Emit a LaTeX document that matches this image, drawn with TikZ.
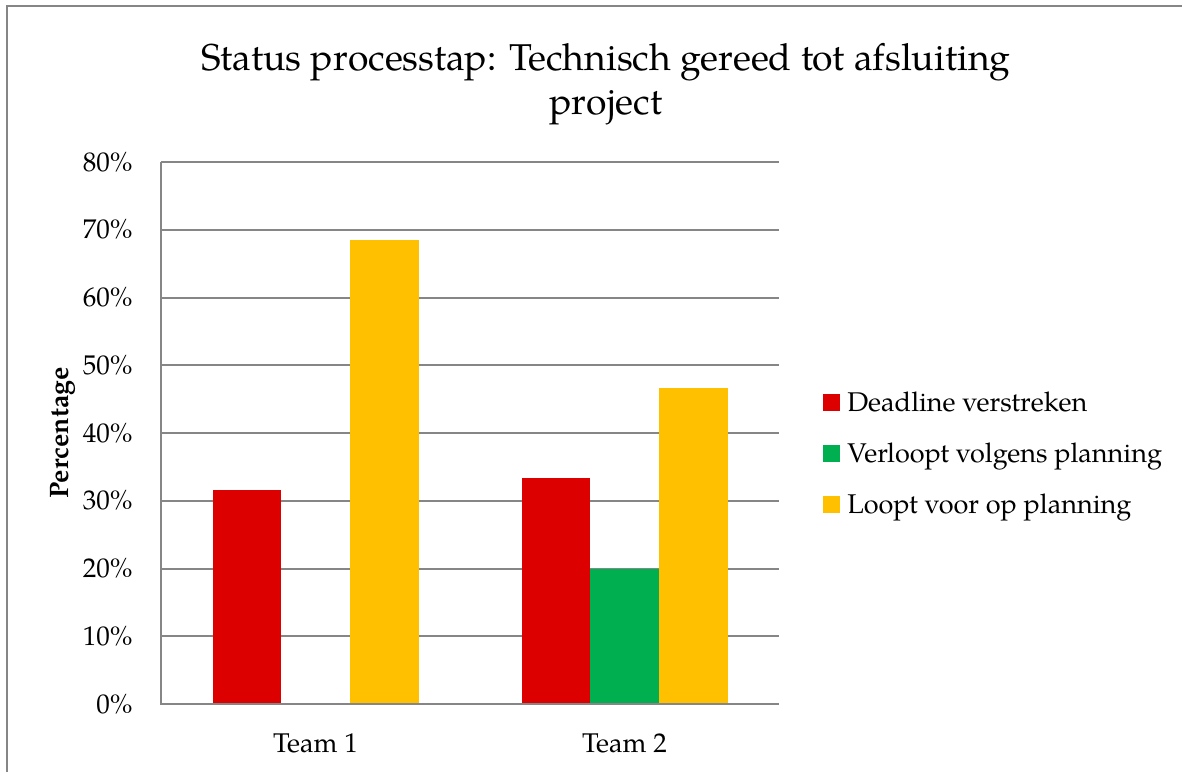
\documentclass[tikz,border=0pt]{standalone}
\usepackage{fontspec}
\setmainfont{texgyrepagella}[Extension=.otf, UprightFont=*-regular, BoldFont=*-bold, ItalicFont=*-italic, BoldItalicFont=*-bolditalic]
\definecolor{axisgray}{RGB}{134,134,134}
\definecolor{barred}{RGB}{221,0,0}
\definecolor{bargreen}{RGB}{0,176,80}
\definecolor{baryellow}{RGB}{255,192,0}
% one bar of the chart: left edge, value (fraction), colour
\newcommand\chartbar[3]{\fill[#3] (#1,704) rectangle ({#1+68.7},{704-677.5*#2});}
\begin{document}
\begin{tikzpicture}[x=0.75pt,y=-0.75pt,
  frame/.style={draw=axisgray,line width=1.2pt},
  gridline/.style={draw=axisgray,line width=1.5pt},
  ticklabel/.style={anchor=base east,inner sep=0pt,font=\fontsize{20.3}{24}\selectfont},
  catlabel/.style={anchor=base,inner sep=0pt,font=\fontsize{20.3}{24}\selectfont},
  legtext/.style={anchor=base west,inner sep=0pt,font=\fontsize{20.3}{24}\selectfont},
  legkey/.style={inner sep=0pt,minimum size=12.75pt,anchor=south west}]
\useasboundingbox (0,0) rectangle (1182,772);
% chart frame (top and left edges)
\draw[frame] (7,772) -- (7,6) -- (1182,6);
% title (anchored on the baseline of its last line)
\node[anchor=base,inner sep=0pt,font=\fontsize{28}{33}\selectfont,align=center] (title) at (606,114)
  {Status processtap: Technisch gereed tot afsluiting\\project};
% horizontal gridlines
\foreach \i in {1,...,8}
  \draw[gridline] (161,{704-67.75*\i}) -- (779,{704-67.75*\i});
% value axis labels
\foreach \i in {0,...,8}
  \node[ticklabel] (tick\i) at (133,{713-67.75*\i}) {\the\numexpr\i*10\relax\%};
% axis title
\node[rotate=90,anchor=base,inner sep=0pt,font=\bfseries\fontsize{20}{24}\selectfont] (ytitle) at (68,433) {Percentage};
% bars, Team 1
\chartbar{212.5}{0.3158}{barred}
\chartbar{349.9}{0.6842}{baryellow}
% bars, Team 2
\chartbar{521.5}{0.3333}{barred}
\chartbar{590.2}{0.2}{bargreen}
\chartbar{658.9}{0.4667}{baryellow}
% axes
\draw[gridline] (161,162) -- (161,704) -- (779,704);
% category labels
\node[catlabel] (team1) at (315.5,752) {Team 1};
\node[catlabel] (team2) at (624.5,752) {Team 2};
% legend
\node[legkey,fill=barred] (key1) at (823,411) {};
\node[legtext] (leg1) at (847,411) {Deadline verstreken};
\node[legkey,fill=bargreen] (key2) at (823,462) {};
\node[legtext] (leg2) at (847,462) {Verloopt volgens planning};
\node[legkey,fill=baryellow] (key3) at (823,513) {};
\node[legtext] (leg3) at (847,513) {Loopt voor op planning};
\end{tikzpicture}
\end{document}
